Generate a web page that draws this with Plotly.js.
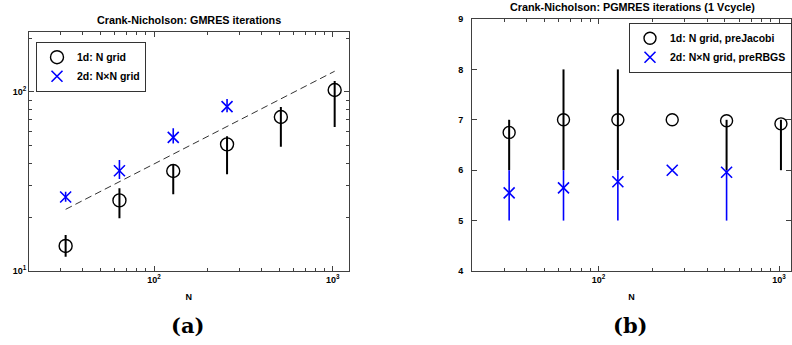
<!DOCTYPE html>
<html><head><meta charset="utf-8">
<script src="https://cdn.plot.ly/plotly-3.0.1.min.js"></script>
<style>html,body{margin:0;padding:0;background:#fff}#chart{width:792px;height:345px}</style>
</head><body><div id="chart"></div>
<script>
// ---- Panel (a): GMRES iterations ----
const N1d = [32, 64, 128, 256, 512, 1024];
const gm1dMean = [13.8, 24.8, 36.2, 51.0, 72.5, 102.6];
const gm1dMin  = [12.0, 19.7, 26.8, 34.7, 49.4, 63.7];
const gm1dMax  = [15.9, 29.0, 39.5, 56.5, 82.4, 115.0];
const N2d = [32, 64, 128, 256];
const gm2dMean = [25.9, 36.3, 55.8, 82.8];
const gm2dMin  = [24.4, 32.7, 51.6, 77.1];
const gm2dMax  = [27.7, 41.7, 62.7, 91.4];
const refN = [32, 1024];
const refVals = [22.1, 130.6];
// ---- Panel (b): PGMRES iterations (1 Vcycle) ----
const pgN1d = [32, 64, 128, 256, 512, 1024];
const pg1dMean = [6.75, 7.0, 7.0, 7.0, 6.98, 6.92];
const pg1dMin  = [6, 6, 6, 7, 6, 6];
const pg1dMax  = [7, 8, 8, 7, 7, 7];
const pgN2d = [32, 64, 128, 256, 512];
const pg2dMean = [5.55, 5.65, 5.77, 6.0, 5.96];
const pg2dMin  = [5, 5, 5, 6, 5];
const pg2dMax  = [6, 6, 6, 6, 6];
// ---- labels ----
const titleA = 'Crank-Nicholson: GMRES iterations';
const titleB = 'Crank-Nicholson: PGMRES iterations (1 Vcycle)';
const legA = ['1d: N grid', '2d: N\u00d7N grid'];
const legB = ['1d: N grid, preJacobi', '2d: N\u00d7N grid, preRBGS'];
const xTickVals = [100, 1000];
const xTickText = ['10<sup>2</sup>', '10<sup>3</sup>'];
const yTickValsA = [10, 100];
const yTickTextA = ['10<sup>1</sup>', '10<sup>2</sup>'];
const yTickValsB = [4, 5, 6, 7, 8, 9];
const captions = ['(a)', '(b)'];

const plus = (m, hi) => hi.map((v, i) => Math.max(0, v - m[i]));
const minus = (m, lo) => m.map((v, i) => Math.max(0, v - lo[i]));

function logMinor(lo, hi) {
  const out = [];
  for (let d = Math.pow(10, Math.floor(lo)); d < Math.pow(10, hi); d *= 10)
    for (let k = 2; k <= 9; k++) { const v = k * d; if (Math.log10(v) >= lo && Math.log10(v) <= hi) out.push(v); }
  return out;
}

const BLACK = '#000000', BLUE = '#0000ff';
const circ = {symbol: 'circle-open', size: 13, color: BLACK, line: {width: 1.4, color: BLACK}};
const cross = {symbol: 'x-thin-open', size: 11, color: BLUE, line: {width: 1.6, color: BLUE}};

const traces = [
  {x: refN, y: refVals, xaxis: 'x', yaxis: 'y', mode: 'lines', showlegend: false,
   line: {color: '#333', width: 1, dash: '7px,4px'}, hoverinfo: 'skip'},
  {x: N1d, y: gm1dMean, xaxis: 'x', yaxis: 'y', mode: 'markers', name: legA[0], legend: 'legend',
   marker: circ,
   error_y: {type: 'data', symmetric: false, array: plus(gm1dMean, gm1dMax), arrayminus: minus(gm1dMean, gm1dMin),
             color: BLACK, thickness: 2, width: 0}},
  {x: N2d, y: gm2dMean, xaxis: 'x', yaxis: 'y', mode: 'markers', name: legA[1], legend: 'legend',
   marker: cross,
   error_y: {type: 'data', symmetric: false, array: plus(gm2dMean, gm2dMax), arrayminus: minus(gm2dMean, gm2dMin),
             color: BLUE, thickness: 1.6, width: 0}},
  {x: pgN1d, y: pg1dMean, xaxis: 'x2', yaxis: 'y2', mode: 'markers', name: legB[0], legend: 'legend2',
   marker: Object.assign({}, circ, {size: 12}),
   error_y: {type: 'data', symmetric: false, array: plus(pg1dMean, pg1dMax), arrayminus: minus(pg1dMean, pg1dMin),
             color: BLACK, thickness: 2, width: 0}},
  {x: pgN2d, y: pg2dMean, xaxis: 'x2', yaxis: 'y2', mode: 'markers', name: legB[1], legend: 'legend2',
   marker: cross,
   error_y: {type: 'data', symmetric: false, array: plus(pg2dMean, pg2dMax), arrayminus: minus(pg2dMean, pg2dMin),
             color: BLUE, thickness: 1.6, width: 0}}
];

const W = 792, H = 345;
const px = v => v / W, py = v => 1 - v / H;
const LINE = '#404040';
const tickFont = {family: 'Liberation Sans, Arial, sans-serif', size: 9, color: '#000', weight: 'bold'};
const common = {showline: true, linecolor: LINE, linewidth: 1, mirror: 'allticks', ticks: 'inside',
                ticklen: 5, tickcolor: LINE, tickwidth: 1, showgrid: false, zeroline: false, tickfont: tickFont};

const xRangeA = [1.3, 3.088], xRangeB = [1.3, 3.066];
const layout = {
  width: W, height: H, margin: {l: 0, r: 0, t: 0, b: 0},
  paper_bgcolor: '#fff', plot_bgcolor: '#fff',
  font: {family: 'Liberation Sans, Arial, sans-serif', size: 10, color: '#000'},
  xaxis: Object.assign({}, common, {type: 'log', range: xRangeA, domain: [px(29), px(349)], anchor: 'y',
    tickmode: 'array', tickvals: xTickVals, ticktext: xTickText,
    minor: {tickmode: 'array', tickvals: logMinor(xRangeA[0], xRangeA[1]), ticks: 'inside', ticklen: 3, tickcolor: LINE},
    title: {text: 'N', font: {size: 9, weight: 'bold'}, standoff: 9}}),
  yaxis: Object.assign({}, common, {type: 'log', range: [1, 2.335], domain: [py(271), py(32)], anchor: 'x',
    tickmode: 'array', tickvals: yTickValsA, ticktext: yTickTextA,
    minor: {tickmode: 'array', tickvals: logMinor(1, 2.335), ticks: 'inside', ticklen: 3, tickcolor: LINE}}),
  xaxis2: Object.assign({}, common, {type: 'log', range: xRangeB, domain: [px(472.7), 1], anchor: 'y2',
    tickmode: 'array', tickvals: xTickVals, ticktext: xTickText,
    minor: {tickmode: 'array', tickvals: logMinor(xRangeB[0], xRangeB[1]), ticks: 'inside', ticklen: 3, tickcolor: LINE},
    title: {text: 'N', font: {size: 9, weight: 'bold'}, standoff: 9}}),
  yaxis2: Object.assign({}, common, {range: [4, 9], domain: [py(271), py(19)], anchor: 'x2',
    tickmode: 'array', tickvals: yTickValsB, ticklabelstandoff: 6}),
  legend: {x: px(36), y: py(41.7), xanchor: 'left', yanchor: 'top', bgcolor: '#fff', bordercolor: '#333', borderwidth: 1,
           font: {size: 10.5, weight: 'bold'}, tracegroupgap: 0},
  legend2: {x: px(630), y: py(22.7), xanchor: 'left', yanchor: 'top', bgcolor: '#fff', bordercolor: '#333', borderwidth: 1,
           font: {size: 10.5, weight: 'bold'}, tracegroupgap: 0},
  annotations: [
    {text: titleA, x: px(189), y: py(20), xref: 'paper', yref: 'paper', showarrow: false, xanchor: 'center', yanchor: 'middle',
     font: {size: 10.8, weight: 'bold'}},
    {text: titleB, x: px(633), y: py(7), xref: 'paper', yref: 'paper', showarrow: false, xanchor: 'center', yanchor: 'middle',
     font: {size: 10.8, weight: 'bold'}},
    {text: captions[0], x: px(188), y: py(325), xref: 'paper', yref: 'paper', showarrow: false, xanchor: 'center', yanchor: 'middle',
     font: {family: 'DejaVu Serif, serif', size: 21, weight: 'bold'}},
    {text: captions[1], x: px(631), y: py(325), xref: 'paper', yref: 'paper', showarrow: false, xanchor: 'center', yanchor: 'middle',
     font: {family: 'DejaVu Serif, serif', size: 21, weight: 'bold'}}
  ]
};
Plotly.newPlot('chart', traces, layout, {staticPlot: true, displayModeBar: false});
</script></body></html>
